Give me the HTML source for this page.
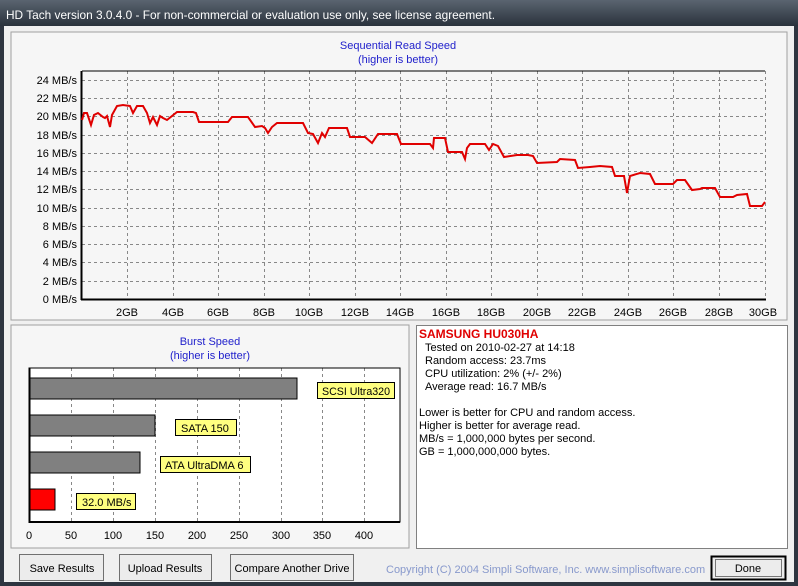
<!DOCTYPE html>
<html><head><meta charset="utf-8"><style>
html,body{margin:0;padding:0;background:#f0f0f0;}
svg{display:block;font-family:"Liberation Sans",Arial,sans-serif;}
</style></head><body>
<svg width="798" height="586" viewBox="0 0 798 586" xmlns="http://www.w3.org/2000/svg">
<defs><linearGradient id="tb" x1="0" y1="0" x2="0" y2="1"><stop offset="0" stop-color="#5a6470"/><stop offset="1" stop-color="#2a323c"/></linearGradient></defs>
<rect x="0" y="0" width="798" height="586" fill="#2e3540"/>
<rect x="0" y="0" width="798" height="26" fill="url(#tb)"/>
<text x="6" y="19" font-size="12" fill="#ffffff" textLength="489" lengthAdjust="spacingAndGlyphs">HD Tach version 3.0.4.0  - For non-commercial or evaluation use only, see license agreement.</text>
<rect x="4" y="26" width="790" height="556" fill="#f0f0f0"/>
<rect x="11" y="32" width="776" height="288" fill="#f6f6f6" stroke="#a0a0a0"/>
<text x="398" y="49" font-size="11" fill="#2222cc" text-anchor="middle">Sequential Read Speed</text>
<text x="398" y="63" font-size="11" fill="#2222cc" text-anchor="middle">(higher is better)</text>
<g stroke="#888" stroke-dasharray="3,3" stroke-width="1">
<line x1="82" y1="80.5" x2="765" y2="80.5"/><line x1="82" y1="98.5" x2="765" y2="98.5"/><line x1="82" y1="116.5" x2="765" y2="116.5"/><line x1="82" y1="135.5" x2="765" y2="135.5"/><line x1="82" y1="153.5" x2="765" y2="153.5"/><line x1="82" y1="171.5" x2="765" y2="171.5"/><line x1="82" y1="189.5" x2="765" y2="189.5"/><line x1="82" y1="208.5" x2="765" y2="208.5"/><line x1="82" y1="226.5" x2="765" y2="226.5"/><line x1="82" y1="244.5" x2="765" y2="244.5"/><line x1="82" y1="262.5" x2="765" y2="262.5"/><line x1="82" y1="281.5" x2="765" y2="281.5"/>
<line x1="127.5" y1="71" x2="127.5" y2="299"/><line x1="173.5" y1="71" x2="173.5" y2="299"/><line x1="218.5" y1="71" x2="218.5" y2="299"/><line x1="264.5" y1="71" x2="264.5" y2="299"/><line x1="309.5" y1="71" x2="309.5" y2="299"/><line x1="355.5" y1="71" x2="355.5" y2="299"/><line x1="400.5" y1="71" x2="400.5" y2="299"/><line x1="446.5" y1="71" x2="446.5" y2="299"/><line x1="491.5" y1="71" x2="491.5" y2="299"/><line x1="537.5" y1="71" x2="537.5" y2="299"/><line x1="582.5" y1="71" x2="582.5" y2="299"/><line x1="628.5" y1="71" x2="628.5" y2="299"/><line x1="673.5" y1="71" x2="673.5" y2="299"/><line x1="719.5" y1="71" x2="719.5" y2="299"/><line x1="765.5" y1="71" x2="765.5" y2="299"/>
</g>
<line x1="82" y1="71" x2="765" y2="71" stroke="#000"/>
<line x1="81.5" y1="71" x2="81.5" y2="300" stroke="#000" stroke-width="2"/>
<line x1="81" y1="299.5" x2="766" y2="299.5" stroke="#000" stroke-width="2"/>
<g font-size="11" fill="#000" text-anchor="end">
<text x="77" y="84">24 MB/s</text><text x="77" y="102">22 MB/s</text><text x="77" y="120">20 MB/s</text><text x="77" y="139">18 MB/s</text><text x="77" y="157">16 MB/s</text><text x="77" y="175">14 MB/s</text><text x="77" y="193">12 MB/s</text><text x="77" y="212">10 MB/s</text><text x="77" y="230">8 MB/s</text><text x="77" y="248">6 MB/s</text><text x="77" y="266">4 MB/s</text><text x="77" y="285">2 MB/s</text><text x="77" y="303">0 MB/s</text>
</g>
<g font-size="11" fill="#000" text-anchor="middle">
<text x="127" y="316">2GB</text><text x="173" y="316">4GB</text><text x="218" y="316">6GB</text><text x="264" y="316">8GB</text><text x="309" y="316">10GB</text><text x="355" y="316">12GB</text><text x="400" y="316">14GB</text><text x="446" y="316">16GB</text><text x="491" y="316">18GB</text><text x="537" y="316">20GB</text><text x="582" y="316">22GB</text><text x="628" y="316">24GB</text><text x="673" y="316">26GB</text><text x="719" y="316">28GB</text><text x="763" y="316">30GB</text>
</g>
<polyline fill="none" stroke="#e00000" stroke-width="2" points="82,120 84,113 87,113 91,125 94,115 98,113 103,117 105,118 107,116 110,127 112,115 117,106 123,105 130,106 133,113 137,106 143,106 147,113 150,123 153,117 157,125 160,116 163,118 167,120 172,116 177,112 193,112 196,113 199,122 228,122 232,117 248,117 255,127 262,126 265,128 268,133 272,127 277,123 303,123 308,133 313,134 318,143 322,133 325,137 329,128 347,128 350,137 365,137 372,143 378,134 397,134 401,144 430,144 433,148 434,138 445,138 448,152 462,152 465,159 467,148 470,144 485,144 489,150 493,144 498,146 504,157 517,155 528,155 533,156 537,163 557,162 560,159 575,160 578,168 590,167 600,166 612,167 615,176 624,176 627,193 630,176 640,173 650,174 655,184 673,184 677,180 685,180 692,190 700,189 702,188 715,188 720,197 733,197 737,195 747,194 750,206 762,206 765,202"/>
<rect x="11" y="325" width="398" height="223" fill="#f6f6f6" stroke="#a0a0a0"/>
<text x="210" y="345" font-size="11" fill="#2222cc" text-anchor="middle">Burst Speed</text>
<text x="210" y="359" font-size="11" fill="#2222cc" text-anchor="middle">(higher is better)</text>
<rect x="29" y="368" width="371" height="154" fill="#fff"/>
<g stroke="#888" stroke-dasharray="3,3">
<line x1="71.5" y1="368" x2="71.5" y2="522"/><line x1="113.5" y1="368" x2="113.5" y2="522"/><line x1="155.5" y1="368" x2="155.5" y2="522"/><line x1="197.5" y1="368" x2="197.5" y2="522"/><line x1="239.5" y1="368" x2="239.5" y2="522"/><line x1="281.5" y1="368" x2="281.5" y2="522"/><line x1="322.5" y1="368" x2="322.5" y2="522"/><line x1="364.5" y1="368" x2="364.5" y2="522"/>
</g>
<rect x="29" y="368" width="371" height="154" fill="none" stroke="#000"/>
<line x1="29" y1="522" x2="400" y2="522" stroke="#000" stroke-width="2"/>
<line x1="29.5" y1="368" x2="29.5" y2="523" stroke="#000" stroke-width="2"/>
<g stroke="#fff"><line x1="297" y1="389" x2="318" y2="389"/><line x1="155" y1="426" x2="176" y2="426"/><line x1="140" y1="463" x2="161" y2="463"/><line x1="55" y1="500" x2="77" y2="500"/></g>
<rect x="30" y="378" width="267" height="21" fill="#808080" stroke="#000"/>
<rect x="30" y="415" width="125" height="21" fill="#808080" stroke="#000"/>
<rect x="30" y="452" width="110" height="21" fill="#808080" stroke="#000"/>
<rect x="30" y="489" width="25" height="21" fill="#ff0000" stroke="#000"/>
<g font-size="11" fill="#000">
<rect x="317.5" y="382.5" width="77" height="16" fill="#ffff80" stroke="#000"/><text x="322" y="395" textLength="68" lengthAdjust="spacingAndGlyphs">SCSI Ultra320</text>
<rect x="175.5" y="419.5" width="61" height="16" fill="#ffff80" stroke="#000"/><text x="181" y="432">SATA 150</text>
<rect x="160.5" y="456.5" width="90" height="16" fill="#ffff80" stroke="#000"/><text x="165" y="469">ATA UltraDMA 6</text>
<rect x="76.5" y="493.5" width="59" height="16" fill="#ffff80" stroke="#000"/><text x="82" y="506">32.0 MB/s</text>
</g>
<g font-size="11" fill="#000" text-anchor="middle">
<text x="29" y="539">0</text><text x="71" y="539">50</text><text x="113" y="539">100</text><text x="155" y="539">150</text><text x="197" y="539">200</text><text x="239" y="539">250</text><text x="281" y="539">300</text><text x="322" y="539">350</text><text x="364" y="539">400</text>
</g>
<rect x="416.5" y="325.5" width="371" height="223" fill="#fff" stroke="#808080"/>
<text x="419" y="338" font-size="12" font-weight="bold" fill="#e00000">SAMSUNG HU030HA</text>
<g font-size="11" fill="#000">
<text x="425" y="351">Tested on 2010-02-27 at 14:18</text>
<text x="425" y="364">Random access: 23.7ms</text>
<text x="425" y="377">CPU utilization: 2% (+/- 2%)</text>
<text x="425" y="390">Average read: 16.7 MB/s</text>
<text x="419" y="416">Lower is better for CPU and random access.</text>
<text x="419" y="429">Higher is better for average read.</text>
<text x="419" y="442">MB/s = 1,000,000 bytes per second.</text>
<text x="419" y="455">GB = 1,000,000,000 bytes.</text>
</g>
<g font-size="11" fill="#000" text-anchor="middle">
<rect x="19.5" y="554.5" width="84" height="26" fill="#ececec" stroke="#707070"/><text x="62" y="572">Save Results</text>
<rect x="119.5" y="554.5" width="92" height="26" fill="#ececec" stroke="#707070"/><text x="165" y="572">Upload Results</text>
<rect x="230.5" y="554.5" width="123" height="26" fill="#ececec" stroke="#707070"/><text x="292" y="572">Compare Another Drive</text>
<rect x="711.5" y="556.5" width="74" height="23" fill="#ececec" stroke="#000" stroke-width="2"/><rect x="715.5" y="559.5" width="66" height="17" fill="none" stroke="#000" stroke-dasharray="1,1"/><text x="748" y="572">Done</text>
</g>
<text x="386" y="573" font-size="11" fill="#8899cc">Copyright (C) 2004 Simpli Software, Inc. www.simplisoftware.com</text>
</svg>
</body></html>
